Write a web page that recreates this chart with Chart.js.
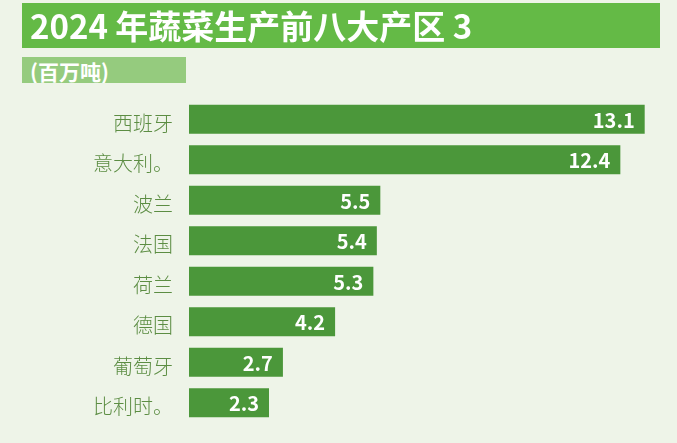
<!DOCTYPE html>
<html>
<head>
<meta charset="utf-8">
<script src="https://cdn.jsdelivr.net/npm/chart.js@4"></script>
<style>
  html, body { margin:0; padding:0; }
  body { width:677px; height:443px; background:#eef4e8; position:relative; overflow:hidden;
         font-family:"Noto Sans CJK SC","Noto Sans",sans-serif; }
  #title { position:absolute; left:22px; top:3px; width:638px; height:45px; background:#64ba46;
           color:#fff; font-weight:700; font-size:33px; line-height:45px; padding-left:8px; box-sizing:border-box; white-space:nowrap; }
  #unit { position:absolute; left:22px; top:57px; width:164px; height:26px; background:#95cb7e;
          color:#fff; font-weight:700; font-size:21px; line-height:29px; padding-left:8px; box-sizing:border-box; overflow:hidden; white-space:nowrap; }
  #wrap { position:absolute; left:0; top:0; width:677px; height:443px; }
</style>
</head>
<body>
<div id="wrap"><canvas id="c" width="677" height="443"></canvas></div>
<div id="title">2024 年蔬菜生产前八大产区 3</div>
<div id="unit">(百万吨)</div>
<script>
const categories = ["西班牙", "意大利。", "波兰", "法国", "荷兰", "德国", "葡萄牙", "比利时。"];
const values = [13.1, 12.4, 5.5, 5.4, 5.3, 4.2, 2.7, 2.3];
const valueLabels = ["13.1", "12.4", "5.5", "5.4", "5.3", "4.2", "2.7", "2.3"];

const valuePlugin = {
  id: 'valueLabels',
  afterDatasetsDraw(chart) {
    const ctx = chart.ctx;
    const meta = chart.getDatasetMeta(0);
    ctx.save();
    ctx.fillStyle = '#ffffff';
    ctx.font = '700 20px "Noto Sans CJK SC", "Noto Sans", sans-serif';
    ctx.textAlign = 'right';
    ctx.textBaseline = 'middle';
    meta.data.forEach((bar, i) => {
      ctx.fillText(valueLabels[i], bar.x - 10, bar.y + 1);
    });
    ctx.restore();
  }
};

new Chart(document.getElementById('c'), {
  type: 'bar',
  data: {
    labels: categories,
    datasets: [{
      data: values,
      backgroundColor: '#4b973a',
      borderWidth: 0,
      barPercentage: 0.71,
      categoryPercentage: 1.0
    }]
  },
  options: {
    indexAxis: 'y',
    responsive: false,
    animation: false,
    devicePixelRatio: 1,
    layout: { padding: { top: 99, bottom: 15, left: 0, right: 1 } },
    plugins: { legend: { display: false }, tooltip: { enabled: false }, title: { display: false } },
    scales: {
      x: { display: false, min: 0, max: 14 },
      y: {
        grid: { display: false, drawBorder: false },
        border: { display: false },
        ticks: {
          color: '#5c8d43',
          padding: 8,
          labelOffset: 4,
          font: { family: '"Noto Sans CJK SC", "Noto Sans", sans-serif', size: 20, weight: 300 }
        },
        afterFit(scale) { scale.width = 189; }
      }
    }
  },
  plugins: [valuePlugin]
});
</script>
</body>
</html>
